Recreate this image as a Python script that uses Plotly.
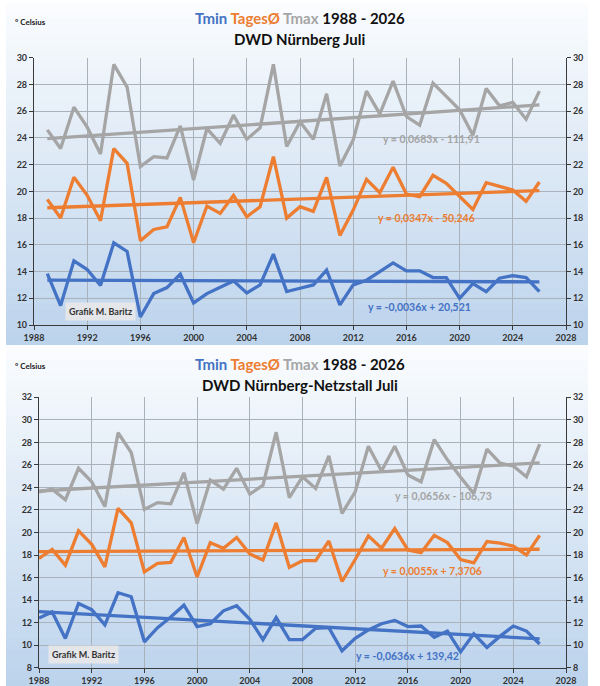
import plotly.graph_objects as go

# ---------------- data ----------------
top_years = list(range(1989, 2027))
top_tmin = [13.85, 11.45, 14.8, 14.15, 12.95, 16.15, 15.5, 10.6, 12.35, 12.8, 13.8, 11.65, 12.35, 12.8, 13.3, 12.4, 13.0, 15.3, 12.5, 12.75,
            13.0, 14.1, 11.5, 13.0, 13.35, 14.0, 14.65, 14.05, 14.05, 13.55, 13.55, 12.0, 13.1, 12.5, 13.5, 13.7, 13.55, 12.5]
top_tages = [19.4, 18.0, 21.05, 19.7, 17.8, 23.2, 22.1, 16.3, 17.15, 17.35, 19.55, 16.15, 18.9, 18.35, 19.7, 18.1, 18.85, 22.6, 18.0, 18.85,
             18.5, 21.05, 16.7, 18.6, 20.9, 19.9, 21.8, 19.8, 19.6, 21.2, 20.6, 19.65, 18.65, 20.65, 20.4, 20.1, 19.25, 20.7]
top_tmax = [24.6, 23.2, 26.3, 24.8, 22.8, 29.5, 27.8, 21.85, 22.6, 22.5, 24.9, 20.85, 24.7, 23.6, 25.7, 23.9, 24.75, 29.5, 23.35, 25.2,
            23.9, 27.3, 21.9, 23.85, 27.5, 25.8, 28.25, 25.6, 24.95, 28.1, 27.1, 26.1, 24.2, 27.7, 26.4, 26.65, 25.4, 27.5]

bot_years = list(range(1988, 2027))
bot_tmin = [12.4, 12.95, 10.6, 13.7, 13.15, 11.8, 14.65, 14.3, 10.3, 11.55, 12.5, 13.55,
            11.65, 11.9, 13.05, 13.5, 12.3, 10.5, 12.45, 10.5, 10.5, 11.5,
            11.55, 9.5, 10.6, 11.35, 11.9, 12.2, 11.65, 11.7, 10.7, 11.25,
            9.4, 11.0, 9.8, 10.8, 11.7, 11.25, 10.1]
bot_tages = [17.7, 18.5, 17.1, 20.15, 18.95, 16.95, 22.15, 20.85, 16.5, 17.25, 17.35, 19.55,
             16.05, 19.1, 18.6, 19.55, 18.1, 17.55, 20.85, 16.9, 17.5, 17.5,
             19.25, 15.65, 17.6, 19.7, 18.6, 20.35, 18.45, 18.2, 19.75, 19.1,
             17.6, 17.3, 19.2, 19.05, 18.8, 18.0, 19.75]
bot_tmax = [23.6, 23.85, 22.9, 25.7, 24.5, 22.3, 28.85, 27.1, 22.05, 22.65, 22.55, 25.3,
            20.8, 24.65, 23.85, 25.7, 23.4, 24.2, 28.9, 23.1, 24.95, 23.9,
            26.8, 21.7, 23.6, 27.65, 25.45, 27.65, 25.1, 24.5, 28.25, 26.45,
            24.9, 23.45, 27.4, 26.15, 25.9, 24.95, 27.85]

# linear trend coefficients (slope, intercept) as printed on the chart
top_trend = {"tmin": (-0.0036, 20.521), "tages": (0.0347, -50.246), "tmax": (0.0683, -111.91)}
bot_trend = {"tmin": (-0.0636, 139.42), "tages": (0.0055, 7.3706), "tmax": (0.0656, -106.73)}
top_eq_labels = {"tmin": "y = -0,0036x + 20,521", "tages": "y = 0,0347x - 50,246", "tmax": "y = 0,0683x - 111,91"}
bot_eq_labels = {"tmin": "y = -0,0636x + 139,42", "tages": "y = 0,0055x + 7,3706", "tmax": "y = 0,0656x - 106,73"}

top_title2 = "DWD Nürnberg Juli"
bot_title2 = "DWD Nürnberg-Netzstall Juli"
period = "1988 - 2026"
credit = "Grafik M. Baritz"
unit = "° Celsius"

# ---------------- style ----------------
C_MIN = "#4472C4"
C_AVG = "#ED7D31"
C_MAX = "#A5A5A5"
FONT = "Lato"
GRID = "#a9b1ba"
AX = "#3a3a3a"

W, H = 600, 686


def px_x(p):
    return p / W


def px_y(p):
    return 1 - p / H


fig = go.Figure()

series_colors = {"tmin": C_MIN, "tages": C_AVG, "tmax": C_MAX}

for (years, data, trend, xa, ya, yr) in [
    (top_years, {"tmax": top_tmax, "tages": top_tages, "tmin": top_tmin}, top_trend, "x", "y", "y3"),
    (bot_years, {"tmax": bot_tmax, "tages": bot_tages, "tmin": bot_tmin}, bot_trend, "x2", "y2", "y4"),
]:
    for key in ["tmax", "tages", "tmin"]:
        fig.add_trace(go.Scatter(x=years, y=data[key], mode="lines", xaxis=xa, yaxis=ya,
                                 line=dict(color=series_colors[key], width=3.3), hoverinfo="skip"))
    for key in ["tmax", "tages", "tmin"]:
        m, b = trend[key]
        xs = [years[0], years[-1]]
        fig.add_trace(go.Scatter(x=xs, y=[m * v + b for v in xs], mode="lines", xaxis=xa, yaxis=yr,
                                 line=dict(color=series_colors[key], width=3.3), hoverinfo="skip"))

# ---------------- background gradient panels ----------------
shapes = []


def panel(y0, y1, n=48):
    c0 = (250, 252, 254)
    c1 = (188, 211, 236)
    for i in range(n):
        t = i / (n - 1)
        c = tuple(int(round(c0[k] + (c1[k] - c0[k]) * t)) for k in range(3))
        a = y0 + (y1 - y0) * i / n
        bnd = y0 + (y1 - y0) * (i + 1) / n + 0.6
        shapes.append(dict(type="rect", xref="paper", yref="paper",
                           x0=px_x(6), x1=px_x(588), y0=px_y(min(bnd, y1)), y1=px_y(a),
                           fillcolor="rgb(%d,%d,%d)" % c, line=dict(width=0), layer="below"))


panel(3, 345)
panel(345, 686)

# ---------------- axes ----------------
tickfont = dict(family=FONT, size=9, color="#333333", weight="bold")
common_x = dict(range=[1988, 2028], tick0=1988, dtick=4, showgrid=True, gridcolor=GRID, gridwidth=1,
                showline=True, linecolor=AX, linewidth=1.2, ticks="outside", ticklen=4, tickcolor=AX,
                tickfont=tickfont, zeroline=False, fixedrange=True, automargin=False)
common_y = dict(dtick=2, showgrid=True, gridcolor=GRID, gridwidth=1, showline=True, linecolor=AX,
                linewidth=1.2, ticks="outside", ticklen=4, tickcolor=AX, tickfont=tickfont,
                zeroline=False, fixedrange=True, automargin=False)

top_dom_x = [px_x(34), px_x(566)]
top_dom_y = [px_y(325), px_y(57.7)]
bot_dom_x = [px_x(39), px_x(566)]
bot_dom_y = [px_y(667.7), px_y(397.3)]

fig.update_layout(
    xaxis=dict(domain=top_dom_x, anchor="y", **common_x),
    yaxis=dict(domain=top_dom_y, anchor="x", range=[10, 30], **common_y),
    yaxis3=dict(overlaying="y", side="right", anchor="x", range=[10, 30],
                **{**common_y, "showgrid": False}),
    xaxis2=dict(domain=bot_dom_x, anchor="y2", **common_x),
    yaxis2=dict(domain=bot_dom_y, anchor="x2", range=[8, 32], **common_y),
    yaxis4=dict(overlaying="y2", side="right", anchor="x2", range=[8, 32],
                **{**common_y, "showgrid": False}),
)

# ---------------- annotations ----------------
ann = []


def title_block(y1, y2, t2):
    line1 = ("<span style='color:%s'>Tmin</span> <span style='color:%s'>TagesØ</span> "
             "<span style='color:%s'>Tmax</span> <span style='color:#111111'>%s</span>") % (C_MIN, C_AVG, C_MAX, period)
    ann.append(dict(xref="paper", yref="paper", x=0.5, y=px_y(y1), text=line1, showarrow=False,
                    xanchor="center", yanchor="middle", font=dict(family=FONT, size=15, weight="bold")))
    ann.append(dict(xref="paper", yref="paper", x=0.5, y=px_y(y2), text=t2, showarrow=False,
                    xanchor="center", yanchor="middle", font=dict(family=FONT, size=15, color="#111111", weight="bold")))


title_block(18.3, 39.5, top_title2)
title_block(364.3, 385, bot_title2)

for y in [22.3, 365.7]:
    ann.append(dict(xref="paper", yref="paper", x=px_x(13), y=px_y(y), text=unit, showarrow=False,
                    xanchor="left", yanchor="middle", font=dict(family=FONT, size=8, color="#222222", weight="bold")))

eq_pos_top = {"tmax": (2017.85, 23.9), "tages": (2017.5, 18.0), "tmin": (2016.95, 11.38)}
eq_pos_bot = {"tmax": (2018.7, 23.23), "tages": (2017.85, 16.57), "tmin": (2016.0, 9.02)}
for labels, pos, xa, ya in [(top_eq_labels, eq_pos_top, "x", "y"), (bot_eq_labels, eq_pos_bot, "x2", "y2")]:
    for key in ["tmax", "tages", "tmin"]:
        ann.append(dict(xref=xa, yref=ya, x=pos[key][0], y=pos[key][1], text=labels[key], showarrow=False,
                        xanchor="center", yanchor="middle",
                        font=dict(family=FONT, size=10.5, color=series_colors[key], weight="bold")))

for xa, ya, x, y in [("x", "y", 1993.0, 11.0), ("x2", "y2", 1991.4, 9.2)]:
    ann.append(dict(xref=xa, yref=ya, x=x, y=y, text=credit, showarrow=False, xanchor="center",
                    yanchor="middle", bgcolor="#e4e6e9", borderpad=3,
                    font=dict(family=FONT, size=9, color="#333333", weight="bold")))

fig.update_layout(
    width=W, height=H, autosize=False,
    margin=dict(l=0, r=0, t=0, b=0, pad=0, autoexpand=False),
    paper_bgcolor="white", plot_bgcolor="rgba(0,0,0,0)",
    showlegend=False, shapes=shapes, annotations=ann,
)

fig.write_html("out.html", config={"displayModeBar": False},
               post_script="document.body.style.margin='0px';document.documentElement.style.overflow='hidden';")
